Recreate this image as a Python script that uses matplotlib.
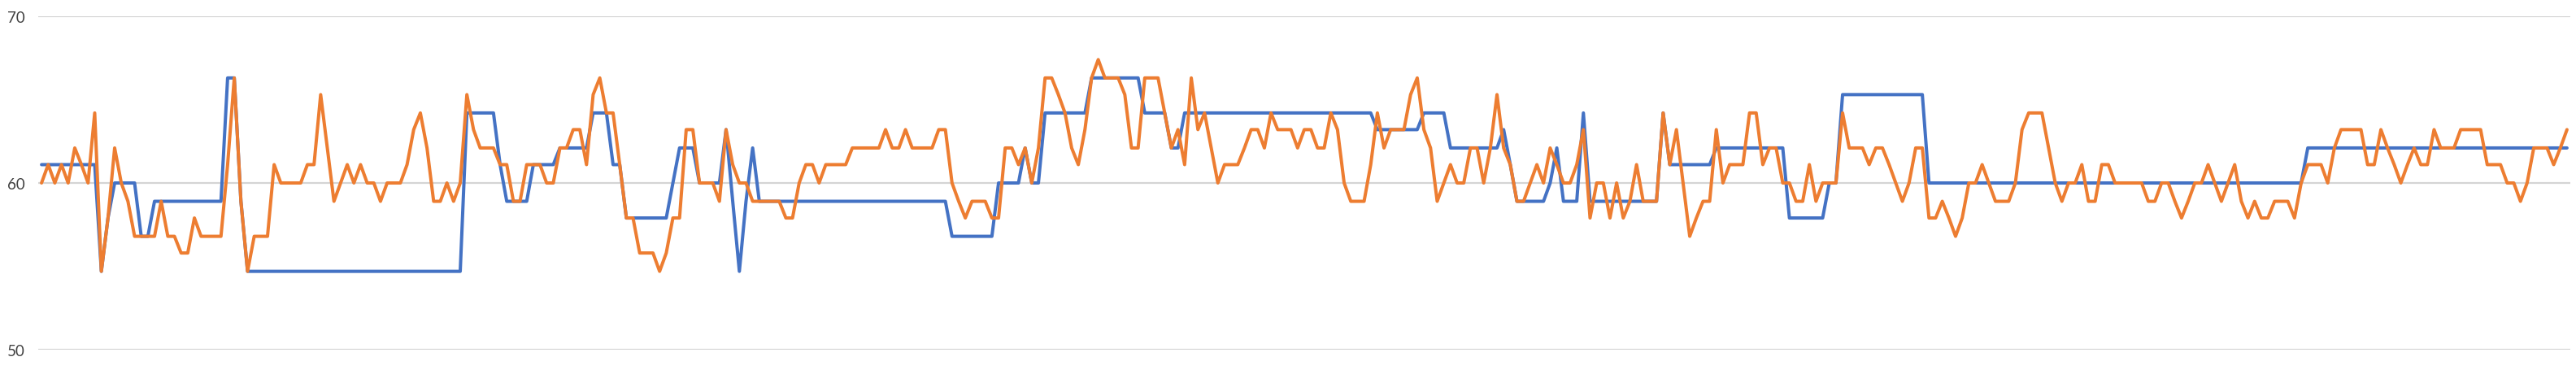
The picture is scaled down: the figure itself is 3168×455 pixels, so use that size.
import matplotlib
matplotlib.use("agg")
import matplotlib.pyplot as plt

# series values, one per category slot (381 slots)
blue = [
    61.1, 61.1, 61.1, 61.1, 61.1, 61.1, 61.1, 61.1, 61.1, 54.7,
    57.9, 60.0, 60.0, 60.0, 60.0, 56.8, 56.8, 58.9, 58.9, 58.9,
    58.9, 58.9, 58.9, 58.9, 58.9, 58.9, 58.9, 58.9, 66.3, 66.3,
    58.9, 54.7, 54.7, 54.7, 54.7, 54.7, 54.7, 54.7, 54.7, 54.7,
    54.7, 54.7, 54.7, 54.7, 54.7, 54.7, 54.7, 54.7, 54.7, 54.7,
    54.7, 54.7, 54.7, 54.7, 54.7, 54.7, 54.7, 54.7, 54.7, 54.7,
    54.7, 54.7, 54.7, 54.7, 64.2, 64.2, 64.2, 64.2, 64.2, 61.1,
    58.9, 58.9, 58.9, 58.9, 61.1, 61.1, 61.1, 61.1, 62.1, 62.1,
    62.1, 62.1, 62.1, 64.2, 64.2, 64.2, 61.1, 61.1, 57.9, 57.9,
    57.9, 57.9, 57.9, 57.9, 57.9, 60.0, 62.1, 62.1, 62.1, 60.0,
    60.0, 60.0, 60.0, 63.2, 58.9, 54.7, 58.9, 62.1, 58.9, 58.9,
    58.9, 58.9, 58.9, 58.9, 58.9, 58.9, 58.9, 58.9, 58.9, 58.9,
    58.9, 58.9, 58.9, 58.9, 58.9, 58.9, 58.9, 58.9, 58.9, 58.9,
    58.9, 58.9, 58.9, 58.9, 58.9, 58.9, 58.9, 56.8, 56.8, 56.8,
    56.8, 56.8, 56.8, 56.8, 60.0, 60.0, 60.0, 60.0, 62.1, 60.0,
    60.0, 64.2, 64.2, 64.2, 64.2, 64.2, 64.2, 64.2, 66.3, 66.3,
    66.3, 66.3, 66.3, 66.3, 66.3, 66.3, 64.2, 64.2, 64.2, 64.2,
    62.1, 62.1, 64.2, 64.2, 64.2, 64.2, 64.2, 64.2, 64.2, 64.2,
    64.2, 64.2, 64.2, 64.2, 64.2, 64.2, 64.2, 64.2, 64.2, 64.2,
    64.2, 64.2, 64.2, 64.2, 64.2, 64.2, 64.2, 64.2, 64.2, 64.2,
    64.2, 63.2, 63.2, 63.2, 63.2, 63.2, 63.2, 63.2, 64.2, 64.2,
    64.2, 64.2, 62.1, 62.1, 62.1, 62.1, 62.1, 62.1, 62.1, 62.1,
    63.2, 61.1, 58.9, 58.9, 58.9, 58.9, 58.9, 60.0, 62.1, 58.9,
    58.9, 58.9, 64.2, 58.9, 58.9, 58.9, 58.9, 58.9, 58.9, 58.9,
    58.9, 58.9, 58.9, 58.9, 64.2, 61.1, 61.1, 61.1, 61.1, 61.1,
    61.1, 61.1, 62.1, 62.1, 62.1, 62.1, 62.1, 62.1, 62.1, 62.1,
    62.1, 62.1, 62.1, 57.9, 57.9, 57.9, 57.9, 57.9, 57.9, 60.0,
    60.0, 65.3, 65.3, 65.3, 65.3, 65.3, 65.3, 65.3, 65.3, 65.3,
    65.3, 65.3, 65.3, 65.3, 60.0, 60.0, 60.0, 60.0, 60.0, 60.0,
    60.0, 60.0, 60.0, 60.0, 60.0, 60.0, 60.0, 60.0, 60.0, 60.0,
    60.0, 60.0, 60.0, 60.0, 60.0, 60.0, 60.0, 60.0, 60.0, 60.0,
    60.0, 60.0, 60.0, 60.0, 60.0, 60.0, 60.0, 60.0, 60.0, 60.0,
    60.0, 60.0, 60.0, 60.0, 60.0, 60.0, 60.0, 60.0, 60.0, 60.0,
    60.0, 60.0, 60.0, 60.0, 60.0, 60.0, 60.0, 60.0, 60.0, 60.0,
    60.0, 62.1, 62.1, 62.1, 62.1, 62.1, 62.1, 62.1, 62.1, 62.1,
    62.1, 62.1, 62.1, 62.1, 62.1, 62.1, 62.1, 62.1, 62.1, 62.1,
    62.1, 62.1, 62.1, 62.1, 62.1, 62.1, 62.1, 62.1, 62.1, 62.1,
    62.1, 62.1, 62.1, 62.1, 62.1, 62.1, 62.1, 62.1, 62.1, 62.1,
    62.1,
]

orange = [
    60.0, 61.1, 60.0, 61.1, 60.0, 62.1, 61.1, 60.0, 64.2, 54.7,
    57.9, 62.1, 60.0, 58.9, 56.8, 56.8, 56.8, 56.8, 58.9, 56.8,
    56.8, 55.8, 55.8, 57.9, 56.8, 56.8, 56.8, 56.8, 61.1, 66.3,
    58.9, 54.7, 56.8, 56.8, 56.8, 61.1, 60.0, 60.0, 60.0, 60.0,
    61.1, 61.1, 65.3, 62.1, 58.9, 60.0, 61.1, 60.0, 61.1, 60.0,
    60.0, 58.9, 60.0, 60.0, 60.0, 61.1, 63.2, 64.2, 62.1, 58.9,
    58.9, 60.0, 58.9, 60.0, 65.3, 63.2, 62.1, 62.1, 62.1, 61.1,
    61.1, 58.9, 58.9, 61.1, 61.1, 61.1, 60.0, 60.0, 62.1, 62.1,
    63.2, 63.2, 61.1, 65.3, 66.3, 64.2, 64.2, 61.1, 57.9, 57.9,
    55.8, 55.8, 55.8, 54.7, 55.8, 57.9, 57.9, 63.2, 63.2, 60.0,
    60.0, 60.0, 58.9, 63.2, 61.1, 60.0, 60.0, 58.9, 58.9, 58.9,
    58.9, 58.9, 57.9, 57.9, 60.0, 61.1, 61.1, 60.0, 61.1, 61.1,
    61.1, 61.1, 62.1, 62.1, 62.1, 62.1, 62.1, 63.2, 62.1, 62.1,
    63.2, 62.1, 62.1, 62.1, 62.1, 63.2, 63.2, 60.0, 58.9, 57.9,
    58.9, 58.9, 58.9, 57.9, 57.9, 62.1, 62.1, 61.1, 62.1, 60.0,
    62.1, 66.3, 66.3, 65.3, 64.2, 62.1, 61.1, 63.2, 66.3, 67.4,
    66.3, 66.3, 66.3, 65.3, 62.1, 62.1, 66.3, 66.3, 66.3, 64.2,
    62.1, 63.2, 61.1, 66.3, 63.2, 64.2, 62.1, 60.0, 61.1, 61.1,
    61.1, 62.1, 63.2, 63.2, 62.1, 64.2, 63.2, 63.2, 63.2, 62.1,
    63.2, 63.2, 62.1, 62.1, 64.2, 63.2, 60.0, 58.9, 58.9, 58.9,
    61.1, 64.2, 62.1, 63.2, 63.2, 63.2, 65.3, 66.3, 63.2, 62.1,
    58.9, 60.0, 61.1, 60.0, 60.0, 62.1, 62.1, 60.0, 62.1, 65.3,
    62.1, 61.1, 58.9, 58.9, 60.0, 61.1, 60.0, 62.1, 61.1, 60.0,
    60.0, 61.1, 63.2, 57.9, 60.0, 60.0, 57.9, 60.0, 57.9, 58.9,
    61.1, 58.9, 58.9, 58.9, 64.2, 61.1, 63.2, 60.0, 56.8, 57.9,
    58.9, 58.9, 63.2, 60.0, 61.1, 61.1, 61.1, 64.2, 64.2, 61.1,
    62.1, 62.1, 60.0, 60.0, 58.9, 58.9, 61.1, 58.9, 60.0, 60.0,
    60.0, 64.2, 62.1, 62.1, 62.1, 61.1, 62.1, 62.1, 61.1, 60.0,
    58.9, 60.0, 62.1, 62.1, 57.9, 57.9, 58.9, 57.9, 56.8, 57.9,
    60.0, 60.0, 61.1, 60.0, 58.9, 58.9, 58.9, 60.0, 63.2, 64.2,
    64.2, 64.2, 62.1, 60.0, 58.9, 60.0, 60.0, 61.1, 58.9, 58.9,
    61.1, 61.1, 60.0, 60.0, 60.0, 60.0, 60.0, 58.9, 58.9, 60.0,
    60.0, 58.9, 57.9, 58.9, 60.0, 60.0, 61.1, 60.0, 58.9, 60.0,
    61.1, 58.9, 57.9, 58.9, 57.9, 57.9, 58.9, 58.9, 58.9, 57.9,
    60.0, 61.1, 61.1, 61.1, 60.0, 62.1, 63.2, 63.2, 63.2, 63.2,
    61.1, 61.1, 63.2, 62.1, 61.1, 60.0, 61.1, 62.1, 61.1, 61.1,
    63.2, 62.1, 62.1, 62.1, 63.2, 63.2, 63.2, 63.2, 61.1, 61.1,
    61.1, 60.0, 60.0, 58.9, 60.0, 62.1, 62.1, 62.1, 61.1, 62.1,
    63.2,
]

y_ticks = [50, 60, 70]

fig = plt.figure(figsize=(31.68, 4.56), dpi=100)
ax = fig.add_axes([47 / 3168, 1 - 431 / 456, 3114 / 3168, 410 / 456])

x = range(len(blue))
ax.plot(x, blue, color="#4472C4", lw=2.9, solid_joinstyle="round", solid_capstyle="round", zorder=3)
ax.plot(range(len(orange)), orange, color="#ED7D31", lw=2.9, solid_joinstyle="round", solid_capstyle="round", zorder=4)

ax.set_xlim(-0.5, len(blue) - 0.5)
ax.set_ylim(50, 70)
ax.set_yticks(y_ticks)
ax.set_yticklabels([str(t) for t in y_ticks], fontsize=13.5, color="#404040", family=["Lato", "DejaVu Sans"])
ax.set_xticks([])
ax.tick_params(axis="y", length=0, pad=12)
ax.grid(axis="y", color="#d4d4d4", lw=1.6)
ax.set_axisbelow(True)
for s in ax.spines.values():
    s.set_visible(False)

fig.savefig("out.png", dpi=100, facecolor="white")
